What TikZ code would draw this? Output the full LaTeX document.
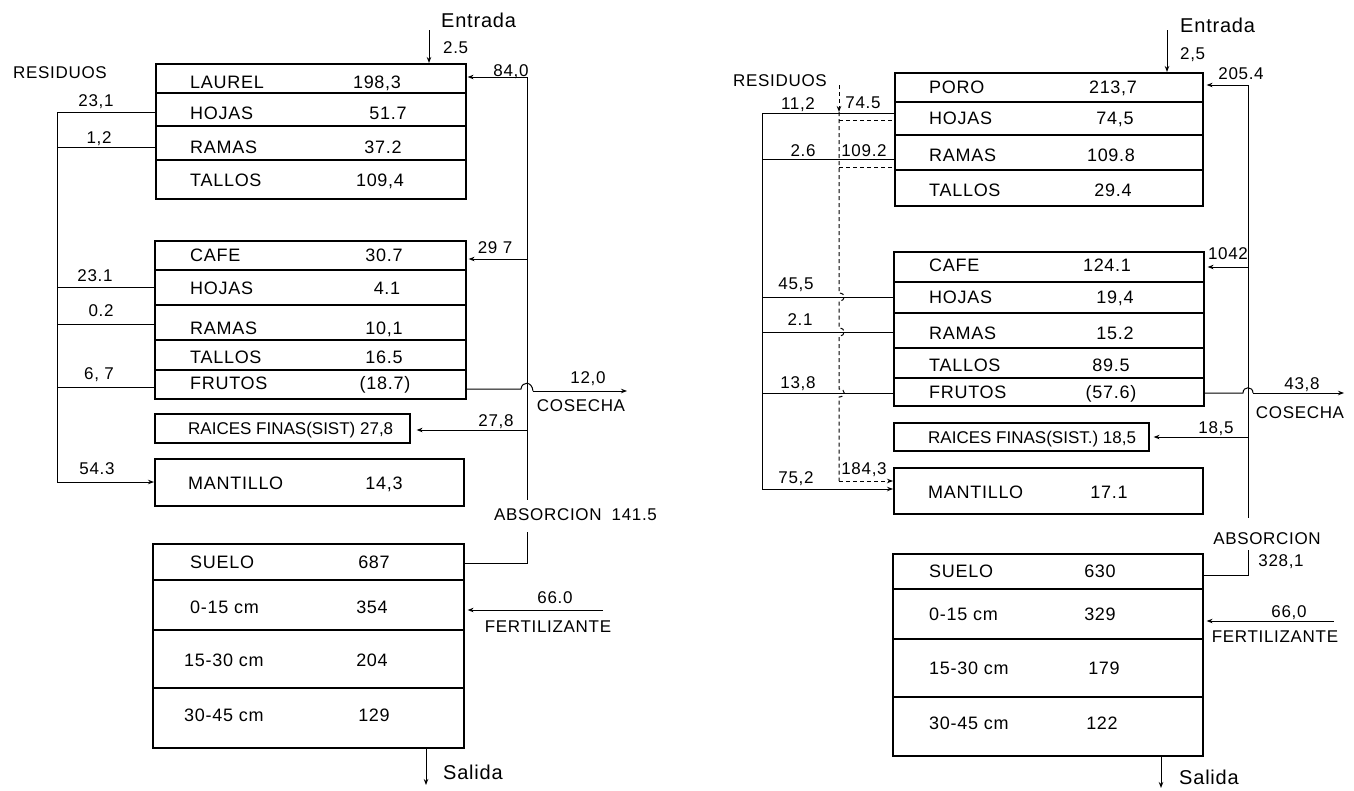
\documentclass[tikz,border=0pt]{standalone}
\usepackage{fontspec}
\setmainfont{Liberation Sans}[LetterSpace=4]
\newfontfamily\tightfont{Liberation Sans}
\usetikzlibrary{arrows.meta}
\begin{document}
\begin{tikzpicture}[x=1pt,y=-1pt,
  bx/.style={draw, line width=1.6pt, inner sep=0pt, anchor=north west},
  dv/.style={line width=1.3pt},
  ln/.style={line width=1pt},
  arr/.style={ln, -{Stealth[length=6pt,width=4.5pt]}},
  dsh/.style={ln, dash pattern=on 4pt off 3pt},
  rt/.style={font=\fontsize{18}{21}\selectfont, inner sep=0pt, text height=12.9pt, text depth=0pt},
  rs/.style={font=\tightfont\fontsize{17}{20}\selectfont, inner sep=0pt, text height=12.2pt, text depth=0pt},
  lb/.style={font=\fontsize{17}{20}\selectfont, inner sep=0pt, text height=12.2pt, text depth=0pt},
  bg/.style={font=\fontsize{20}{24}\selectfont, inner sep=0pt, text height=14.3pt, text depth=0pt}]
\useasboundingbox[fill=white] (0,0) rectangle (1354,790);

%================ LEFT DIAGRAM ================
% boxes
\node[bx, minimum width=310pt, minimum height=135pt] (LA) at (155,63) {};
\draw[dv] (155,93) -- (465,93);
\draw[dv] (155,126) -- (465,126);
\draw[dv] (155,160) -- (465,160);
\node[bx, minimum width=311pt, minimum height=158pt] (LB) at (154,240) {};
\draw[dv] (154,270) -- (465,270);
\draw[dv] (154,305) -- (465,305);
\draw[dv] (154,340) -- (465,340);
\draw[dv] (154,370) -- (465,370);
\node[bx, minimum width=255pt, minimum height=29pt] (LC) at (154,413) {};
\node[bx, minimum width=309pt, minimum height=47pt] (LD) at (154,458) {};
\node[bx, minimum width=311pt, minimum height=204pt] (LE) at (152,543) {};
\draw[dv] (152,580) -- (463,580);
\draw[dv] (152,630) -- (463,630);
\draw[dv] (152,688) -- (463,688);

% row texts
\node[rt, anchor=west] (la1) at (190,82) {LAUREL};   \node[rt] (la1v) at (377,82) {198,3};
\node[rt, anchor=west] (la2) at (190,113) {HOJAS};   \node[rt] (la2v) at (388,113) {51.7};
\node[rt, anchor=west] (la3) at (190,147) {RAMAS};   \node[rt] (la3v) at (383,147) {37.2};
\node[rt, anchor=west] (la4) at (190,180) {TALLOS};  \node[rt] (la4v) at (380,180) {109,4};
\node[rt, anchor=west] (lb1) at (190,255) {CAFE};    \node[rt] (lb1v) at (384,255) {30.7};
\node[rt, anchor=west] (lb2) at (190,288) {HOJAS};   \node[rt] (lb2v) at (387,288) {4.1};
\node[rt, anchor=west] (lb3) at (190,328) {RAMAS};   \node[rt] (lb3v) at (384,328) {10,1};
\node[rt, anchor=west] (lb4) at (190,357) {TALLOS};  \node[rt] (lb4v) at (384,357) {16.5};
\node[rt, anchor=west] (lb5) at (190,383) {FRUTOS};  \node[rt] (lb5v) at (385,383) {(18.7)};
\node[rs, anchor=west] (lc1) at (188,428) {RAICES FINAS(SIST) 27,8};
\node[rt, anchor=west] (ld1) at (188,483) {MANTILLO}; \node[rt] (ld1v) at (384,483) {14,3};
\node[rt, anchor=west] (le1) at (190,562) {SUELO};    \node[rt] (le1v) at (374,562) {687};
\node[rt, anchor=west] (le2) at (190,607) {0-15 cm};  \node[rt] (le2v) at (372,607) {354};
\node[rt, anchor=west] (le3) at (184,660) {15-30 cm}; \node[rt] (le3v) at (372,660) {204};
\node[rt, anchor=west] (le4) at (184,715) {30-45 cm}; \node[rt] (le4v) at (374,715) {129};

% entrada / salida
\coordinate (Lin) at (429,30);
\draw[arr] (Lin) -- (Lin |- LA.north);
\node[bg, anchor=west] (Lent) at (441,20) {Entrada};
\node[lb, anchor=west] (Lentv) at (443,47) {2.5};
\coordinate (Lout) at (426,785);
\draw[arr] (LE.south -| Lout) -- (Lout);
\node[bg, anchor=west] (Lsal) at (443,772) {Salida};

% residuos bus (left)
\node[lb] (Lres) at (60,72) {RESIDUOS};
\coordinate (Lb1) at (57,112);
\coordinate (Lb2) at (57,147);
\coordinate (Lb3) at (57,287);
\coordinate (Lb4) at (57,324);
\coordinate (Lb5) at (57,387);
\coordinate (Lb6) at (57,482);
\draw[ln] (Lb1 -| LA.west) -- (Lb1) -- (Lb6);
\draw[ln] (Lb2) -- (Lb2 -| LA.west);
\draw[ln] (Lb3) -- (Lb3 -| LB.west);
\draw[ln] (Lb4) -- (Lb4 -| LB.west);
\draw[ln] (Lb5) -- (Lb5 -| LB.west);
\draw[arr] (Lb6) -- (Lb6 -| LD.west);
\node[lb] (Ll1) at (96,100) {23,1};
\node[lb] (Ll2) at (99,137) {1,2};
\node[lb] (Ll3) at (95,275) {23.1};
\node[lb] (Ll4) at (101,310) {0.2};
\node[lb] (Ll5) at (99,373) {6, 7};
\node[lb] (Ll6) at (97,468) {54.3};

% absorcion bus (right)
\coordinate (Rb1) at (527,77);
\coordinate (Rb2) at (527,259);
\coordinate (Rb3) at (527,389);
\coordinate (Rb4) at (527,430);
\coordinate (Rb5) at (527,500);
\coordinate (Rb6) at (527,532);
\coordinate (Rb7) at (527,563);
\draw[ln] (Rb1) -- (Rb5);
\draw[arr, shorten >=1pt] (Rb1) -- (Rb1 -| LA.east);
\draw[arr, shorten >=2pt] (Rb2) -- (Rb2 -| LB.east);
\draw[arr, shorten >=6pt] (Rb4) -- (Rb4 -| LC.east);
\draw[ln] (Rb6) -- (Rb7) -- (Rb7 -| LE.east);
\node[lb] (Lr1) at (511,70) {84,0};
\node[lb] (Lr2) at (495,247) {29 7};
\node[lb] (Lr4) at (496,420) {27,8};
\node[lb, anchor=west] (Labs) at (494,514) {ABSORCION\hspace{10pt}141.5};

% cosecha
\coordinate (Lc2) at (521,389);
\coordinate (Lc3) at (533,391);
\coordinate (Lc4) at (627,391);
\draw[ln] (Rb3 -| LB.east) -- (Lc2) .. controls (522,381) and (532,381) .. (Lc3);
\draw[arr] (Lc3) -- (Lc4);
\node[lb] (Lcv) at (588,377) {12,0};
\node[lb] (Lcos) at (581,405) {COSECHA};

% fertilizante
\coordinate (Lf) at (603,610);
\draw[arr, shorten >=3pt] (Lf) -- (Lf -| LE.east);
\node[lb] (Lfv) at (555,597) {66.0};
\node[lb] (Lfer) at (548,626) {FERTILIZANTE};

%================ RIGHT DIAGRAM ================
\node[bx, minimum width=308pt, minimum height=133pt] (RA) at (894,72) {};
\draw[dv] (894,102) -- (1202,102);
\draw[dv] (894,135) -- (1202,135);
\draw[dv] (894,170) -- (1202,170);
\node[bx, minimum width=310pt, minimum height=154pt] (RB) at (893,251) {};
\draw[dv] (893,282) -- (1203,282);
\draw[dv] (893,313) -- (1203,313);
\draw[dv] (893,348) -- (1203,348);
\draw[dv] (893,378) -- (1203,378);
\node[bx, minimum width=255pt, minimum height=28pt] (RC) at (893,422) {};
\node[bx, minimum width=309pt, minimum height=46pt] (RD) at (893,467) {};
\node[bx, minimum width=310pt, minimum height=202pt] (RE) at (892,553) {};
\draw[dv] (892,589) -- (1202,589);
\draw[dv] (892,639) -- (1202,639);
\draw[dv] (892,697) -- (1202,697);

\node[rt, anchor=west] (ra1) at (929,87) {PORO};     \node[rt] (ra1v) at (1113,87) {213,7};
\node[rt, anchor=west] (ra2) at (929,118) {HOJAS};   \node[rt] (ra2v) at (1115,118) {74,5};
\node[rt, anchor=west] (ra3) at (929,155) {RAMAS};   \node[rt] (ra3v) at (1111,155) {109.8};
\node[rt, anchor=west] (ra4) at (929,190) {TALLOS};  \node[rt] (ra4v) at (1113,190) {29.4};
\node[rt, anchor=west] (rb1) at (929,265) {CAFE};    \node[rt] (rb1v) at (1107,265) {124.1};
\node[rt, anchor=west] (rb2) at (929,297) {HOJAS};   \node[rt] (rb2v) at (1115,297) {19,4};
\node[rt, anchor=west] (rb3) at (929,333) {RAMAS};   \node[rt] (rb3v) at (1115,333) {15.2};
\node[rt, anchor=west] (rb4) at (929,365) {TALLOS};  \node[rt] (rb4v) at (1111,365) {89.5};
\node[rt, anchor=west] (rb5) at (929,392) {FRUTOS};  \node[rt] (rb5v) at (1111,392) {(57.6)};
\node[rs, anchor=west] (rc1) at (928,437) {RAICES FINAS(SIST.) 18,5};
\node[rt, anchor=west] (rd1) at (928,492) {MANTILLO}; \node[rt] (rd1v) at (1109,492) {17.1};
\node[rt, anchor=west] (re1) at (929,571) {SUELO};    \node[rt] (re1v) at (1100,571) {630};
\node[rt, anchor=west] (re2) at (929,614) {0-15 cm};  \node[rt] (re2v) at (1100,614) {329};
\node[rt, anchor=west] (re3) at (929,668) {15-30 cm}; \node[rt] (re3v) at (1104,668) {179};
\node[rt, anchor=west] (re4) at (929,723) {30-45 cm}; \node[rt] (re4v) at (1102,723) {122};

\coordinate (Rin) at (1167,30);
\draw[arr] (Rin) -- (Rin |- RA.north);
\node[bg, anchor=west] (Rent) at (1180,25) {Entrada};
\node[lb, anchor=west] (Rentv) at (1180,53) {2,5};
\coordinate (Rout) at (1161,788);
\draw[arr] (RE.south -| Rout) -- (Rout);
\node[bg, anchor=west] (Rsal) at (1179,777) {Salida};

% residuos bus (left)
\node[lb] (Rres) at (780,80) {RESIDUOS};
\coordinate (Qb1) at (762,113);
\coordinate (Qb2) at (762,159);
\coordinate (Qb3) at (762,297);
\coordinate (Qb4) at (762,332);
\coordinate (Qb5) at (762,393);
\coordinate (Qb6) at (762,489);
\draw[ln] (Qb1 -| RA.west) -- (Qb1) -- (Qb6);
\draw[ln] (Qb2) -- (Qb2 -| RA.west);
\draw[ln] (Qb3) -- (Qb3 -| RB.west);
\draw[ln] (Qb4) -- (Qb4 -| RB.west);
\draw[ln] (Qb5) -- (Qb5 -| RB.west);
\draw[arr] (Qb6) -- (Qb6 -| RD.west);
\node[lb] (Rl1) at (798,103) {11,2};
\node[lb] (Rl2) at (803,150) {2.6};
\node[lb] (Rl3) at (796,283) {45,5};
\node[lb] (Rl4) at (800,319) {2.1};
\node[lb] (Rl5) at (798,382) {13,8};
\node[lb] (Rl6) at (796,477) {75,2};

% dashed transfer line
\coordinate (D0) at (839,85);
\coordinate (D1) at (839,112);
\coordinate (D2) at (839,481);
\coordinate (Dh1) at (839,120);
\coordinate (Dh2) at (839,167);
\draw[dsh, -{Stealth[length=6pt,width=4.5pt]}] (D0) -- (D1);
\draw[dsh] (D1) -- (839,293) .. controls (846,293) and (846,301) .. (839,301)
  -- (839,328) .. controls (846,328) and (846,336) .. (839,336)
  -- (839,389) .. controls (846,389) and (846,397) .. (839,397) -- (D2);
\draw[dsh, -{Stealth[length=6pt,width=4.5pt]}] (D2) -- (D2 -| RD.west);
\draw[dsh] (Dh1) -- (Dh1 -| RA.west);
\draw[dsh] (Dh2) -- (Dh2 -| RA.west);
\node[lb] (Rd1) at (863,102) {74.5};
\node[lb] (Rd2) at (864,150) {109.2};
\node[lb] (Rd3) at (864,468) {184,3};

% absorcion bus (right)
\coordinate (Pb1) at (1248,85);
\coordinate (Pb2) at (1248,267);
\coordinate (Pb3) at (1248,393);
\coordinate (Pb4) at (1248,437);
\coordinate (Pb5) at (1248,518);
\coordinate (Pb6) at (1248,550);
\coordinate (Pb7) at (1248,575);
\draw[ln] (Pb1) -- (Pb5);
\draw[arr, shorten >=3pt] (Pb1) -- (Pb1 -| RA.east);
\draw[arr, shorten >=3pt] (Pb2) -- (Pb2 -| RB.east);
\draw[arr, shorten >=4pt] (Pb4) -- (Pb4 -| RC.east);
\draw[ln] (Pb6) -- (Pb7) -- (Pb7 -| RE.east);
\node[lb] (Rr1) at (1241,73) {205.4};
\node[lb] (Rr2) at (1228,253) {1042};
\node[lb] (Rr4) at (1216,427) {18,5};
\node[lb] (Rabs) at (1267,538) {ABSORCION};
\node[lb] (Rabsv) at (1281,560) {328,1};

% cosecha
\coordinate (Pc2) at (1243,393);
\coordinate (Pc3) at (1253,393);
\coordinate (Pc4) at (1344,393);
\draw[ln] (Pb3 -| RB.east) -- (Pc2) .. controls (1243,386) and (1253,386) .. (Pc3);
\draw[arr] (Pc3) -- (Pc4);
\node[lb] (Rcv) at (1302,383) {43,8};
\node[lb] (Rcos) at (1300,412) {COSECHA};

% fertilizante
\coordinate (Pf) at (1334,621);
\draw[arr, shorten >=3pt] (Pf) -- (Pf -| RE.east);
\node[lb] (Rfv) at (1289,611) {66,0};
\node[lb] (Rfer) at (1275,636) {FERTILIZANTE};
\end{tikzpicture}
\end{document}
